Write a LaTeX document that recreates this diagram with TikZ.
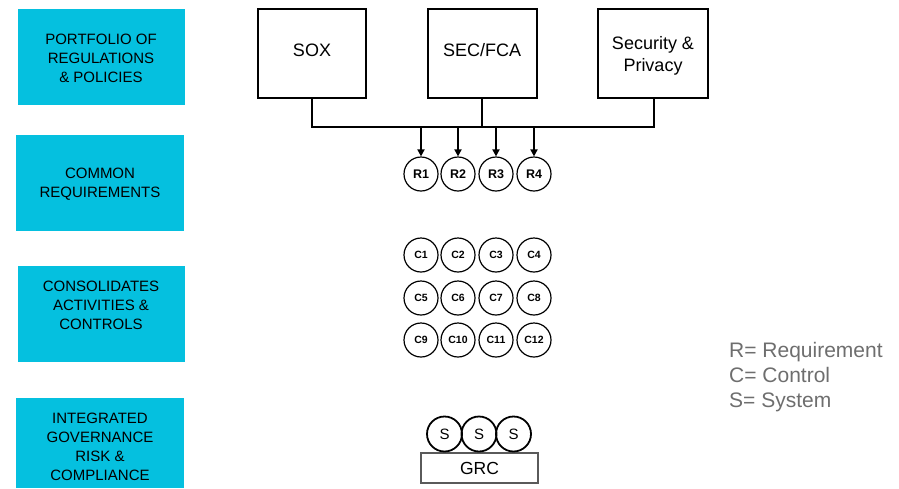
\documentclass[tikz,border=0pt]{standalone}
\usepackage{fontspec}
\setmainfont{Liberation Sans}
\usetikzlibrary{arrows.meta}
\definecolor{stagecyan}{HTML}{05C0DF}
\definecolor{legendgray}{HTML}{6E6E6E}
\definecolor{grcgray}{HTML}{5A5A5A}
\tikzset{
  stagebox/.style={fill=stagecyan, draw=none},
  stagetext/.style={align=center, font=\fontsize{15}{19}\selectfont, inner sep=0pt},
  regbox/.style={draw=black, line width=2pt, fill=white},
  regtext/.style={align=center, font=\fontsize{18}{22}\selectfont, inner sep=0pt},
  reqcircle/.style={circle, draw=black, line width=1.2pt, minimum size=34pt, inner sep=0pt,
    text height=9pt, text depth=0pt, font=\bfseries\fontsize{12.5}{13}\selectfont},
  ctrlcircle/.style={circle, draw=black, line width=1.2pt, minimum size=34pt, inner sep=0pt,
    text height=7.5pt, text depth=0pt, font=\bfseries\fontsize{10.5}{11}\selectfont},
  syscircle/.style={circle, draw=black, line width=1.8pt, minimum size=35pt, inner sep=0pt,
    text height=10.5pt, text depth=0pt, font=\fontsize{15}{16}\selectfont},
  bus/.style={line width=2.3pt, line cap=rect},
  feed/.style={line width=2pt, -{Triangle[length=7pt,width=7pt]}},
  legend/.style={anchor=base west, text=legendgray, font=\fontsize{21}{22}\selectfont, inner sep=0pt}
}
\begin{document}
\begin{tikzpicture}[x=1pt,y=-1pt]
\useasboundingbox (0,0) rectangle (899,488);

% stage labels on the left
\fill[stagebox] (18,9) rectangle (185,105);
\fill[stagebox] (16,135) rectangle (184,231);
\fill[stagebox] (18,266) rectangle (185,362);
\fill[stagebox] (16,398) rectangle (184,488);
\node[stagetext] (s1) at (101,58) {PORTFOLIO OF\\REGULATIONS\\\& POLICIES};
\node[stagetext] (s2) at (100,184) {COMMON\\REQUIREMENTS};
\node[stagetext] (s3) at (101,305) {CONSOLIDATES\\ACTIVITIES \&\\CONTROLS};
\node[stagetext] (s4) at (100,447) {INTEGRATED\\GOVERNANCE\\RISK \&\\COMPLIANCE};

% regulation sources
\draw[regbox] (258,9) rectangle (366,98);
\draw[regbox] (428,9) rectangle (537,98);
\draw[regbox] (598,9) rectangle (708,98);
\node[regtext] (sox) at (312,50) {SOX};
\node[regtext] (sec) at (482,50) {SEC/FCA};
\node[regtext] (sp) at (653,56) {Security \&\\Privacy};
\coordinate (soxb) at (312,98);
\coordinate (secb) at (482,98);
\coordinate (spb) at (654,98);
\coordinate (busl) at (312,127);
\coordinate (busm) at (482,127);
\coordinate (busr) at (654,127);

% requirements
\foreach \i/\x in {1/421,2/458,3/496,4/534}{
  \node[reqcircle] (r\i) at (\x,174) {R\i};
}

% shared bus feeding the requirements
\draw[bus] (soxb) -- (busl) -- (busr) -- (spb);
\draw[bus] (secb) -- (busm);
\foreach \i in {1,...,4}{
  \draw[feed] (r\i.north |- busl) -- (r\i.north);
}

% controls
\foreach \n/\x/\y in {1/421/255,2/458/255,3/496/255,4/534/255,
                      5/421/298,6/458/298,7/496/298,8/534/298,
                      9/421/340,10/458/340,11/496/340,12/534/340}{
  \node[ctrlcircle] (c\n) at (\x,\y) {C\n};
}

% systems on the GRC platform
\draw[draw=grcgray, line width=2.3pt, fill=white] (421,453) rectangle (538,483);
\node[font=\fontsize{17.5}{18}\selectfont, inner sep=0pt] (grc) at (479.5,468.5) {GRC};
\node[syscircle] (sa) at (444.5,434) {S};
\node[syscircle] (sb) at (479,434) {S};
\node[syscircle] (sc) at (513.5,434) {S};

% key
\node[legend] (k1) at (729,357) {R= Requirement};
\node[legend] (k2) at (729,382) {C= Control};
\node[legend] (k3) at (729,407) {S= System};
\end{tikzpicture}
\end{document}
